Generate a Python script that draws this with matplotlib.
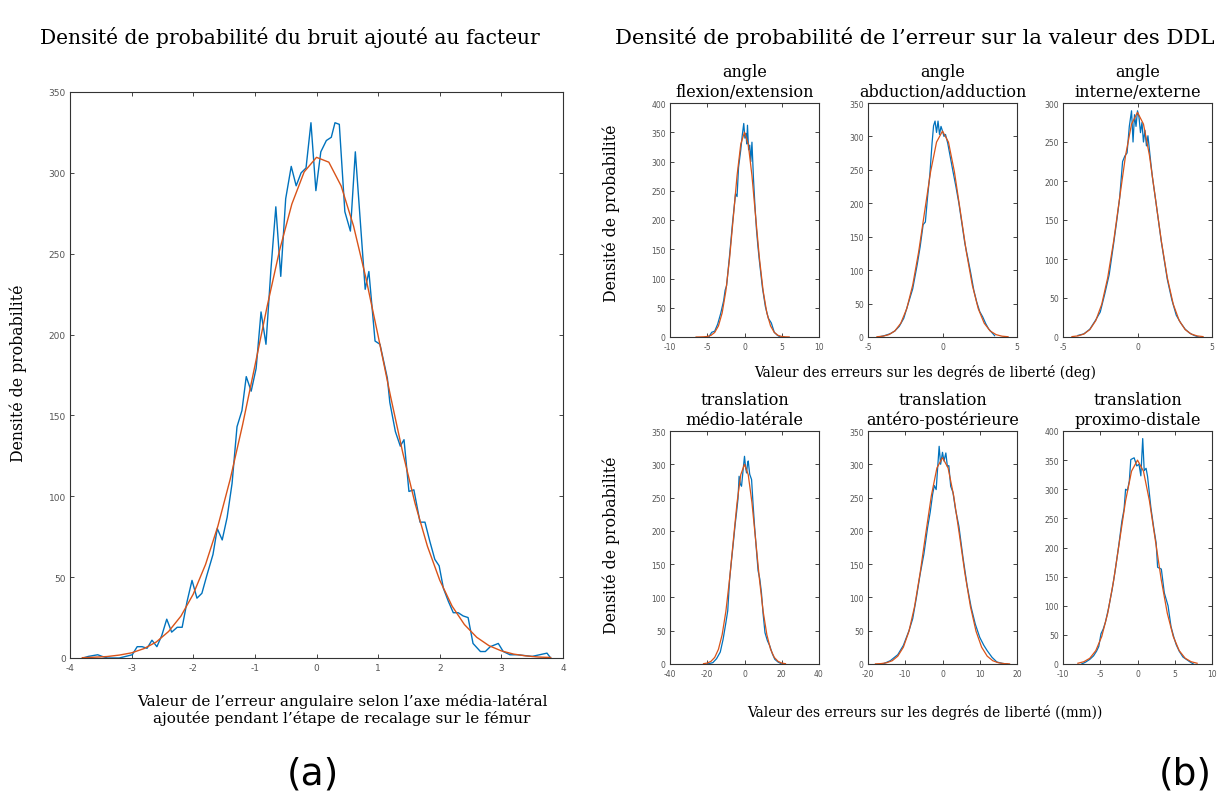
import matplotlib
matplotlib.use("Agg")
import matplotlib.pyplot as plt

plt.rcParams['axes.unicode_minus'] = False

BLUE = '#0072BD'
ORANGE = '#D95319'

# --- (a) bruit ajouté au facteur ---
a_x = [-3.79, -3.70, -3.55, -3.48, -3.39, -3.20, -2.99, -2.91, -2.83, -2.75, -2.67, -2.59, -2.51, -2.43,
       -2.35, -2.26, -2.18, -2.10, -2.02, -1.94, -1.86, -1.78, -1.68, -1.61, -1.53, -1.45, -1.37, -1.29,
       -1.21, -1.14, -1.06, -0.98, -0.90, -0.82, -0.74, -0.66, -0.58, -0.50, -0.41, -0.33, -0.25, -0.17,
       -0.09, -0.01, 0.07, 0.16, 0.24, 0.30, 0.37, 0.46, 0.55, 0.63, 0.79, 0.85, 0.95, 1.03, 1.15, 1.19,
       1.28, 1.36, 1.42, 1.50, 1.58, 1.68, 1.76, 1.84, 1.92, 1.99, 2.06, 2.14, 2.22, 2.30, 2.38, 2.46,
       2.54, 2.66, 2.74, 2.82, 2.95, 3.03, 3.14, 3.26, 3.50, 3.74, 3.80]
a_y = [0, 1, 2, 1, 0, 0, 2, 7, 7, 6, 11, 7, 14, 24,
       16, 19, 19, 35, 48, 37, 40, 51, 64, 80, 73, 87, 108, 143,
       153, 174, 165, 179, 214, 194, 240, 279, 236, 284, 304, 292, 300, 303,
       331, 289, 313, 320, 322, 331, 330, 276, 264, 313, 228, 239, 196, 194, 173, 158,
       140, 131, 135, 103, 104, 84, 84, 72, 61, 57, 43, 35, 28, 28, 26, 25,
       9, 4, 4, 7, 9, 4, 2, 2, 1, 3, 0]
a_fit_x = [-3.8, -3.6, -3.4, -3.2, -3.0, -2.8, -2.6, -2.4, -2.2, -2.0, -1.8, -1.6, -1.4, -1.2, -1.0,
           -0.8, -0.6, -0.4, -0.2, 0.0, 0.2, 0.4, 0.6, 0.8, 1.0, 1.2, 1.4, 1.6, 1.8, 2.0, 2.2, 2.4,
           2.6, 2.8, 3.0, 3.2, 3.4, 3.6, 3.8]
a_fit_y = [0.2, 0.5, 0.9, 1.8, 3.2, 5.8, 9.9, 16.4, 25.9, 39.5, 57.9, 81.6, 110.6, 144.1, 180.6,
           217.6, 252.0, 280.7, 300.6, 309.6, 306.6, 291.9, 267.3, 235.3, 199.2, 162.1, 126.9, 95.5,
           69.1, 48.1, 32.1, 20.7, 12.8, 7.6, 4.4, 2.4, 1.3, 0.6, 0.3]

# --- (b) erreurs sur les DDL ---
titles = ['angle\nflexion/extension', 'angle\nabduction/adduction', 'angle\ninterne/externe',
          'translation\nmédio-latérale', 'translation\nantéro-postérieure', 'translation\nproximo-distale']
xlims = [(-10, 10), (-5, 5), (-5, 5), (-40, 40), (-20, 20), (-10, 10)]
ylims = [400, 350, 300, 350, 350, 400]
xticks = [[-10, -5, 0, 5, 10], [-5, 0, 5], [-5, 0, 5],
          [-40, -20, 0, 20, 40], [-20, -10, 0, 10, 20], [-10, -5, 0, 5, 10]]

b1_x = [-4.8, -4.4, -4.0, -3.6, -3.2, -2.8, -2.6, -2.4, -2.0, -1.6, -1.2, -1.0, -0.8, -0.5, -0.3, -0.1,
        0.05, 0.2, 0.3, 0.4, 0.55, 0.7, 0.85, 1.0, 1.2, 1.4, 1.6, 1.8, 2.0, 2.4, 2.8, 3.2, 3.6, 4.0, 4.4, 4.8]
b1_y = [0, 8, 10, 22, 40, 62, 80, 88, 140, 196, 245, 240, 290, 320, 345, 365,
        340, 348, 330, 362, 320, 328, 300, 333, 272, 225, 185, 155, 130, 85, 52, 32, 24, 8, 3, 0]
f1_x = [-6.5, -6, -5.5, -5, -4.5, -4, -3.5, -3, -2.5, -2, -1.5, -1, -0.5, 0,
        0.5, 1, 1.5, 2, 2.5, 3, 3.5, 4, 4.5, 5, 5.5, 6]
f1_y = [0.0, 0.1, 0.3, 0.9, 2.8, 7.8, 18.9, 41.1, 79.0, 135.0, 204.8, 275.9, 329.8, 350.0,
        329.8, 275.9, 204.8, 135.0, 79.0, 41.1, 18.9, 7.8, 2.8, 0.9, 0.3, 0.1]

b2_x = [-4.3, -3.9, -3.5, -3.2, -2.9, -2.6, -2.3, -2.0, -1.7, -1.5, -1.3, -1.15, -1.0, -0.85, -0.7,
        -0.6, -0.5, -0.4, -0.3, -0.2, -0.1, 0.0, 0.1, 0.2, 0.35, 0.5, 0.7, 0.9, 1.1, 1.3, 1.5, 1.7,
        1.9, 2.1, 2.3, 2.5, 2.7, 2.9, 3.1, 3.3, 3.5]
b2_y = [0, 2, 5, 9, 16, 28, 50, 72, 108, 135, 168, 172, 210, 243, 290,
        316, 323, 306, 323, 303, 315, 308, 300, 303, 290, 272, 248, 225, 200, 170, 140, 118,
        95, 70, 52, 38, 30, 20, 12, 7, 2]
f2_x = [-4.4, -4.0, -3.6, -3.2, -2.8, -2.4, -2.0, -1.6, -1.2, -0.8, -0.4, 0.0,
        0.4, 0.8, 1.2, 1.6, 2.0, 2.4, 2.8, 3.2, 3.6, 4.0, 4.4]
f2_y = [0.4, 1.2, 3.5, 9.0, 20.6, 42.3, 77.6, 127.4, 187.5, 247.0, 291.5, 308.0,
        291.5, 247.0, 187.5, 127.4, 77.6, 42.3, 20.6, 9.0, 3.5, 1.2, 0.4]

b3_x = [-4.0, -3.6, -3.2, -2.8, -2.5, -2.2, -1.9, -1.6, -1.4, -1.2, -1.0, -0.85, -0.7, -0.55, -0.4,
        -0.3, -0.2, -0.1, 0.0, 0.1, 0.2, 0.3, 0.4, 0.5, 0.6, 0.7, 0.8, 0.9, 1.0, 1.2, 1.4, 1.6, 1.8,
        2.0, 2.3, 2.6, 2.9, 3.2, 3.5, 3.8, 4.1]
b3_y = [2, 4, 10, 22, 32, 55, 80, 120, 148, 178, 225, 232, 236, 270, 290,
        250, 285, 270, 290, 282, 262, 275, 250, 265, 245, 258, 240, 222, 205, 178, 150, 122, 98,
        74, 48, 28, 18, 10, 5, 2, 0]
f3_x = [-4.4, -4.0, -3.6, -3.2, -2.8, -2.4, -2.0, -1.6, -1.2, -0.8, -0.4, 0.0,
        0.4, 0.8, 1.2, 1.6, 2.0, 2.4, 2.8, 3.2, 3.6, 4.0, 4.4]
f3_y = [0.5, 1.4, 3.8, 9.5, 21.0, 42.0, 76.0, 123.0, 178.0, 233.0, 273.0, 288.0,
        273.0, 233.0, 178.0, 123.0, 76.0, 42.0, 21.0, 9.5, 3.8, 1.4, 0.5]

b4_x = [-20, -17, -15, -13, -11.5, -10, -9, -8, -7, -6, -5, -4.3, -3.5, -2.9, -2.2, -1.6, -0.8, 0,
        0.6, 1.1, 1.6, 2.0, 2.8, 3.8, 4.6, 5.4, 6.3, 7.3, 8.2, 9.1, 10, 11, 12.3, 13.6, 15, 16.3, 18, 20]
b4_y = [0, 2, 8, 18, 37, 62, 80, 127, 155, 182, 210, 227, 248, 282, 270, 267, 290, 312,
        295, 287, 300, 305, 285, 277, 240, 207, 175, 140, 128, 107, 75, 47, 35, 27, 15, 7, 3, 0]
f4_x = [-22, -20, -18, -16, -14, -12, -10, -8, -6, -4, -2, 0,
        2, 4, 6, 8, 10, 12, 14, 16, 18, 20, 22]
f4_y = [0.5, 1.4, 4.0, 9.9, 22.0, 44.0, 79.1, 127.8, 185.6, 242.4, 284.4, 300.0,
        284.4, 242.4, 185.6, 127.8, 79.1, 44.0, 22.0, 9.9, 4.0, 1.4, 0.5]

b5_x = [-16, -14, -12, -10.5, -9, -8, -7, -6, -5, -4, -3.3, -2.65, -2.2, -1.7, -1.3, -0.9, -0.5, 0,
        0.4, 0.9, 1.3, 1.7, 2.2, 2.8, 3.5, 4.4, 5.5, 6.6, 7.7, 8.8, 10, 11.1, 12, 13.3, 14.6, 16, 17.5]
b5_y = [0, 5, 14, 28, 50, 68, 100, 135, 165, 205, 228, 255, 268, 262, 295, 327, 300, 318,
        305, 317, 297, 298, 267, 258, 232, 207, 160, 118, 85, 60, 40, 28, 20, 10, 3, 1, 0]
f5_x = [-18, -16.5, -15, -13.5, -12, -10.5, -9, -7.5, -6, -4.5, -3, -1.5, 0,
        1.5, 3, 4.5, 6, 7.5, 9, 10.5, 12, 13.5, 15, 16.5, 18]
f5_y = [0.2, 0.6, 1.9, 4.9, 11.8, 25.3, 49.2, 86.3, 136.8, 195.7, 252.6, 294.5, 310.0,
        294.5, 252.6, 195.7, 136.8, 86.3, 49.2, 25.3, 11.8, 4.9, 1.9, 0.6, 0.2]

b6_x = [-7.5, -7.0, -6.4, -5.9, -5.5, -5.2, -4.9, -4.6, -4.3, -3.9, -3.4, -3.0, -2.5, -2.1, -1.8, -1.6,
        -1.35, -1.1, -0.9, -0.45, -0.1, 0.2, 0.45, 0.7, 0.9, 1.15, 1.35, 1.8, 2.2, 2.5, 2.7, 3.2, 3.6,
        4.1, 4.3, 4.5, 4.9, 5.2, 5.6, 6.1, 7.0, 7.5]
b6_y = [0, 3, 8, 14, 22, 30, 52, 60, 72, 95, 128, 160, 205, 245, 266, 300,
        298, 314, 351, 354, 340, 343, 323, 387, 332, 336, 322, 268, 232, 208, 166, 163, 122,
        100, 82, 64, 45, 33, 22, 12, 4, 0]
f6_x = [-8.0, -7.2, -6.4, -5.6, -4.8, -4.0, -3.2, -2.4, -1.6, -0.8, 0.0,
        0.8, 1.6, 2.4, 3.2, 4.0, 4.8, 5.6, 6.4, 7.2, 8.0]
f6_y = [1.3, 3.9, 9.9, 22.9, 47.2, 87.1, 143.7, 212.1, 280.2, 331.0, 350.0,
        331.0, 280.2, 212.1, 143.7, 87.1, 47.2, 22.9, 9.9, 3.9, 1.3]

blue_x = [b1_x, b2_x, b3_x, b4_x, b5_x, b6_x]
blue_y = [b1_y, b2_y, b3_y, b4_y, b5_y, b6_y]
fit_x = [f1_x, f2_x, f3_x, f4_x, f5_x, f6_x]
fit_y = [f1_y, f2_y, f3_y, f4_y, f5_y, f6_y]

W, H = 1225, 812
fig = plt.figure(figsize=(W / 100, H / 100), dpi=100)
SERIF = 'DejaVu Serif'


def box(x0, y0, x1, y1):
    # pixel box (top-left origin) -> figure fraction
    return [x0 / W, 1 - y1 / H, (x1 - x0) / W, (y1 - y0) / H]


def style(ax, fs):
    ax.tick_params(direction='in', top=True, right=True, length=3, width=0.7,
                   labelsize=fs, colors='#444444')
    ax.tick_params(axis='both', labelcolor='#555555')
    ax.tick_params(axis='x', pad=3.5)
    ax.tick_params(axis='y', pad=3)
    for s in ax.spines.values():
        s.set_linewidth(0.8)
        s.set_color('#333333')


# left panel
ax = fig.add_axes(box(70, 93, 563, 659))
ax.plot(a_x, a_y, color=BLUE, lw=1.0)
ax.plot(a_fit_x, a_fit_y, color=ORANGE, lw=1.0)
ax.set_xlim(-4, 4)
ax.set_ylim(0, 350)
ax.set_xticks(range(-4, 5))
ax.set_yticks(range(0, 351, 50))
style(ax, 6.5)

fig.text(290 / W, 1 - 37 / H, 'Densité de probabilité du bruit ajouté au facteur',
         family=SERIF, fontsize=14.6, ha='center', va='center')
fig.text(18 / W, 1 - 373 / H, 'Densité de probabilité', family=SERIF, fontsize=11.3,
         rotation=90, ha='center', va='center')
fig.text(342 / W, 1 - 710 / H,
         'Valeur de l’erreur angulaire selon l’axe média-latéral\najoutée pendant l’étape de recalage sur le fémur',
         family=SERIF, fontsize=11, ha='center', va='center', linespacing=1.2)

# right panel
cols = [(670, 819), (868, 1017), (1063, 1212)]
rows = [(104, 338), (432, 665)]
for i in range(6):
    r, c = divmod(i, 3)
    sub = fig.add_axes(box(cols[c][0], rows[r][0], cols[c][1], rows[r][1]))
    sub.plot(blue_x[i], blue_y[i], color=BLUE, lw=0.9)
    sub.plot(fit_x[i], fit_y[i], color=ORANGE, lw=0.9)
    sub.set_xlim(*xlims[i])
    sub.set_ylim(0, ylims[i])
    sub.set_xticks(xticks[i])
    sub.set_yticks(range(0, ylims[i] + 1, 50))
    style(sub, 5.5)
    sub.set_title(titles[i], family=SERIF, fontsize=11.5, pad=5, linespacing=1.2)

fig.text(915 / W, 1 - 37 / H, 'Densité de probabilité de l’erreur sur la valeur des DDL',
         family=SERIF, fontsize=15.2, ha='center', va='center')
for yc in (213, 545):
    fig.text(611 / W, 1 - yc / H, 'Densité de probabilité', family=SERIF, fontsize=11.3,
             rotation=90, ha='center', va='center')
fig.text(925 / W, 1 - 373 / H, 'Valeur des erreurs sur les degrés de liberté (deg)',
         family=SERIF, fontsize=9.8, ha='center', va='center')
fig.text(925 / W, 1 - 713 / H, 'Valeur des erreurs sur les degrés de liberté ((mm))',
         family=SERIF, fontsize=9.9, ha='center', va='center')

fig.text(313 / W, 1 - 775 / H, '(a)', fontsize=27, ha='center', va='center')
fig.text(1185 / W, 1 - 775 / H, '(b)', fontsize=27, ha='center', va='center')

fig.savefig('out.png', dpi=100, facecolor='white')
